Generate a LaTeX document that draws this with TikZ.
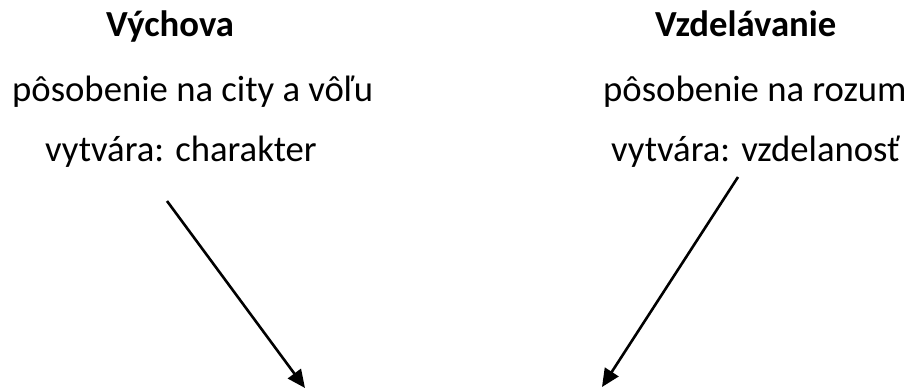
\documentclass[tikz,border=0pt]{standalone}
\usepackage{fontspec}
\setmainfont{Carlito}
\usetikzlibrary{arrows.meta}
\begin{document}
\begin{tikzpicture}[x=1pt,y=-1pt,
  txt/.style={anchor=base west,inner sep=0pt,font=\fontsize{36.7}{44}\selectfont},
  head/.style={txt,font=\fontsize{36.7}{44}\selectfont\bfseries},
  arr/.style={line width=2.6pt,-{Triangle[length=18pt,width=16pt]}}]
\path[use as bounding box] (0,0) rectangle (912,390);
% left column
\node[head] (vych) at (106,37) {Výchova};
\node[txt] (l2) at (12,102) {pôsobenie na city a vôľu};
\node[txt] (l3) at (45,162) {vytvára: charakter};
% right column
\node[head] (vzd) at (655,37) {Vzdelávanie};
\node[txt] (r2) at (603,102) {pôsobenie na rozum};
\node[txt] (r3) at (611,162) {vytvára: vzdelanosť};
% arrows
\coordinate (ls) at (167,201);
\coordinate (le) at (305,388);
\coordinate (rs) at (738,177);
\coordinate (re) at (602,387);
\draw[arr] (ls) -- (le);
\draw[arr] (rs) -- (re);
\end{tikzpicture}
\end{document}
